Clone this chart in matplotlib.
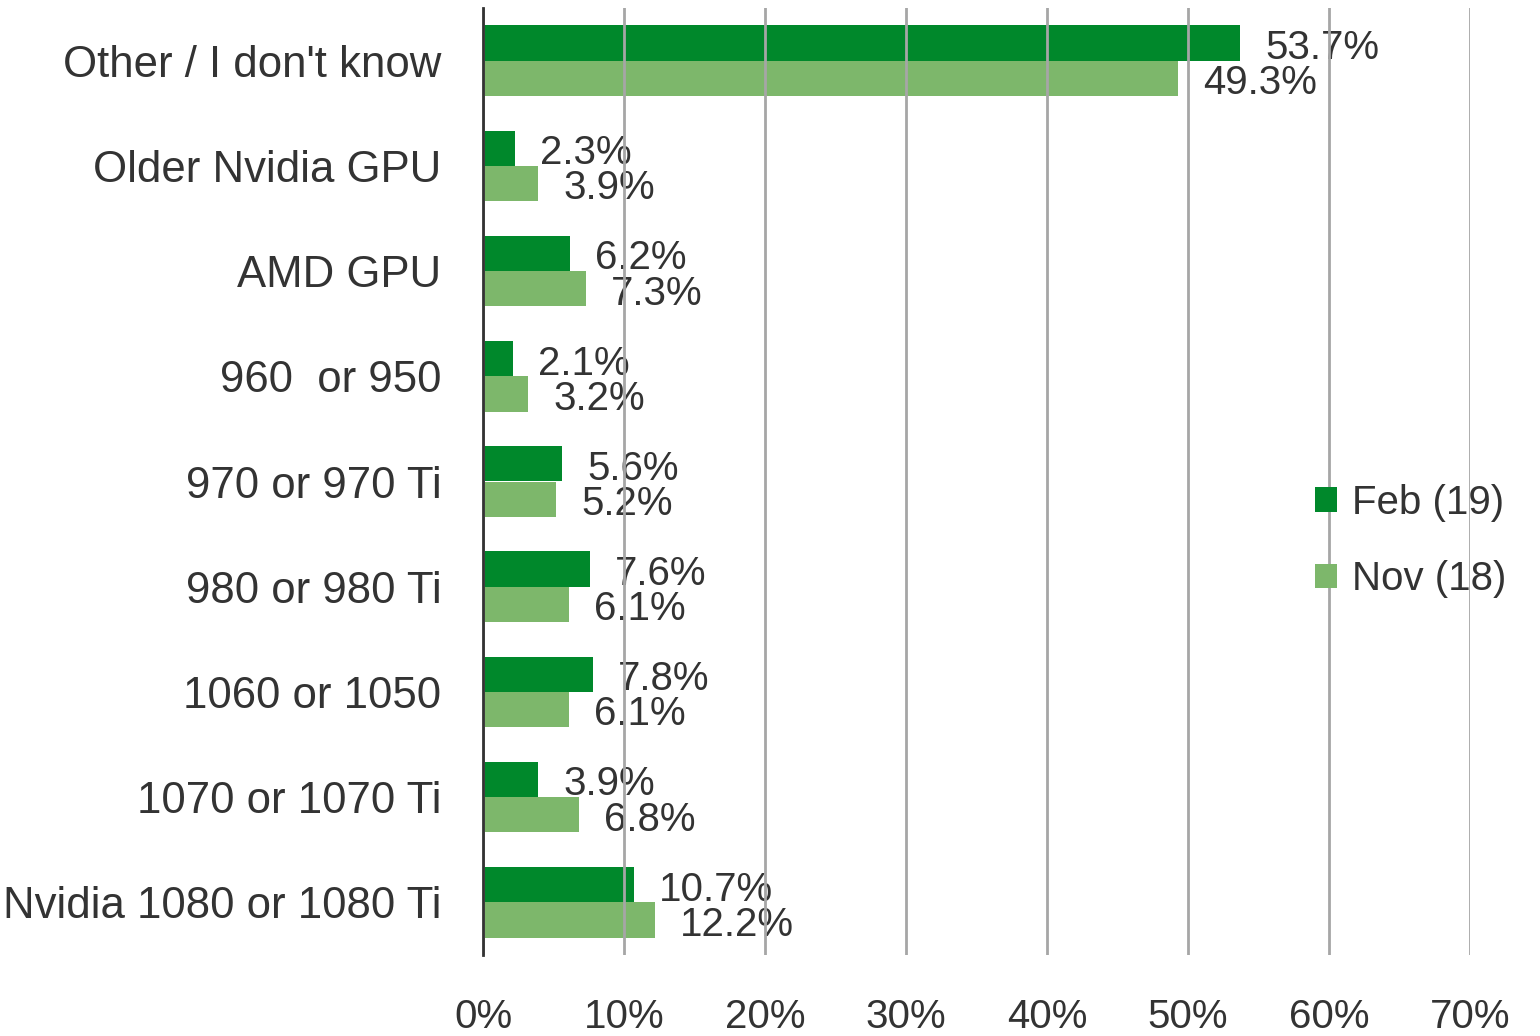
import matplotlib
matplotlib.use("Agg")
import matplotlib.pyplot as plt
import numpy as np

categories = ["Other / I don't know", "Older Nvidia GPU", "AMD GPU", "960  or 950",
              "970 or 970 Ti", "980 or 980 Ti", "1060 or 1050", "1070 or 1070 Ti",
              "Nvidia 1080 or 1080 Ti"]
feb19 = [53.7, 2.3, 6.2, 2.1, 5.6, 7.6, 7.8, 3.9, 10.7]
nov18 = [49.3, 3.9, 7.3, 3.2, 5.2, 6.1, 6.1, 6.8, 12.2]
series_names = ["Feb (19)", "Nov (18)"]
xticks = [0, 10, 20, 30, 40, 50, 60, 70]

plt.rcParams['font.family'] = ['Liberation Sans', 'DejaVu Sans']
TXT = '#333333'
DARK = '#00882B'
LIGHT = '#7DB76B'

fig = plt.figure(figsize=(15.4, 10.36), dpi=100)
ax = fig.add_axes([483/1540, 1 - 955/1036, 987/1540, 947/1036])

y = np.arange(len(categories))
h = 0.335
b1 = ax.barh(y - h/2, feb19, height=h, color=DARK, label=series_names[0], zorder=2)
b2 = ax.barh(y + h/2, nov18, height=h, color=LIGHT, label=series_names[1], zorder=2)

for bars, vals in ((b1, feb19), (b2, nov18)):
    for bar, v in zip(bars, vals):
        ax.annotate(f"{v}%", xy=(bar.get_width(), bar.get_y() + bar.get_height()/2),
                    xytext=(18, -3.5), textcoords='offset points', ha='left', va='center',
                    fontsize=29, color=TXT, zorder=1)

ax.set_xlim(0, 70)
ax.set_ylim(len(categories) - 0.5, -0.5)
ax.set_yticks(y)
ax.set_yticklabels(categories, fontsize=31.5, color=TXT)
ax.set_xticks(xticks)
ax.set_xticklabels([f"{t}%" for t in xticks], fontsize=29, color=TXT)
ax.tick_params(axis='x', length=0, pad=31)
ax.tick_params(axis='y', length=0, pad=30)
ax.grid(axis='x', color='#A6A6A6', linewidth=2, zorder=3)
ax.set_axisbelow(False)
for s in ['top', 'right', 'bottom']:
    ax.spines[s].set_visible(False)
ax.spines['left'].set_color('#333333')
ax.spines['left'].set_linewidth(2)
ax.spines['left'].set_zorder(4)

leg = fig.legend(handles=[b1, b2], labels=series_names, loc='center left',
                 bbox_to_anchor=(1279/1540, 1 - 541/1036), frameon=False,
                 fontsize=29, handlelength=0.55, handleheight=0.55, handletextpad=0.35,
                 labelspacing=0.95)
for t in leg.get_texts():
    t.set_color(TXT)

fig.savefig("out.png", dpi=100)
